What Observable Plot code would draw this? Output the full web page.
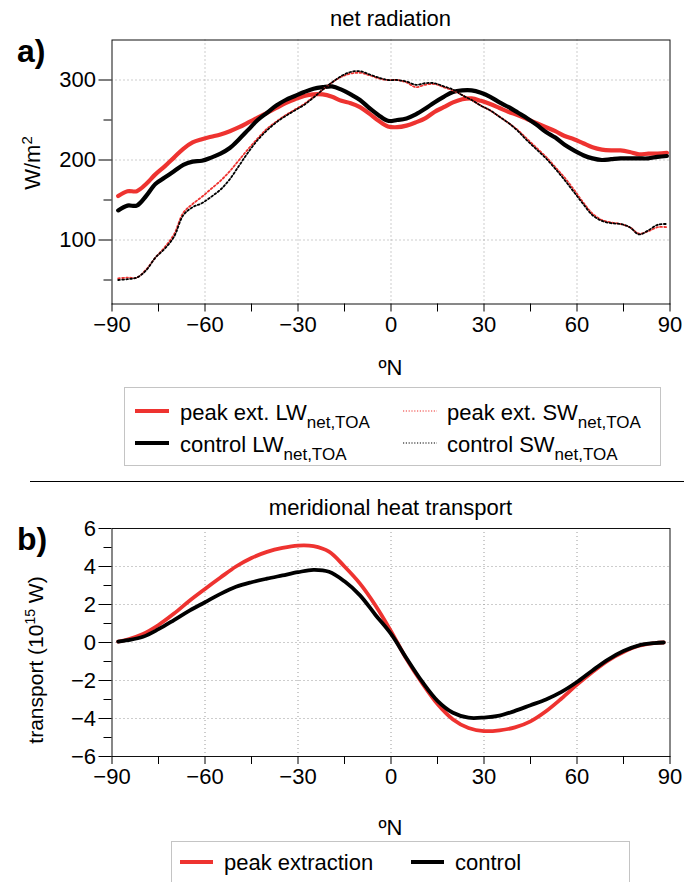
<!DOCTYPE html>
<html><head><meta charset="utf-8">
<script src="https://cdn.jsdelivr.net/npm/d3@7"></script>
<script src="https://cdn.jsdelivr.net/npm/@observablehq/plot@0.6"></script>
<style>
body{margin:0;background:#fff;}
#wrap{position:relative;width:686px;height:882px;overflow:hidden;font-family:"Liberation Sans",Arial,Helvetica,sans-serif;}
#wrap > svg, #wrap > div{position:absolute;left:0;}
</style></head>
<body><div id="wrap"></div>
<script>
// ---- panel a data: net radiation (W/m2) ----
const latA = [-88,-85,-82,-79,-76,-73,-70,-67,-64,-61,-58,-55,-52,-49,-46,-43,-40,-37,-34,-31,-28,-25,-22,-19,-16,-13,-10,-7,-4,-1,2,5,8,11,14,17,20,23,26,29,32,35,38,41,44,47,50,53,56,59,62,65,68,71,74,77,80,83,86,89];
const peakLW = [155,161,161,170,182,192,203,214,222,226,229,232,236,241,247,253,259,265,271,276,280,282,282,279,274,271,266,258,249,242,241,243,247,252,260,266,272,276,277,274,270,265,260,256,251,246,241,236,230,226,221,216,213,212,212,210,207,208,208,209];
const controlLW = [137,143,143,155,170,178,186,194,198,199,203,208,215,226,238,250,259,268,275,280,285,289,291,292,288,282,275,265,256,249,250,252,257,264,272,279,285,287,287,284,279,272,266,259,252,244,235,228,219,212,206,202,200,201,202,202,202,202,204,205];
const peakSW = [52,53,53,63,78,91,107,134,145,154,164,174,186,200,214,227,239,248,256,263,270,279,288,297,304,308,309,306,302,300,300,297,291,294,295,291,287,281,275,268,262,254,246,237,226,215,204,191,178,163,147,133,125,122,120,116,108,111,116,116];
const controlSW = [50,51,53,62,78,89,104,131,141,146,154,163,176,193,210,225,237,247,255,262,269,278,288,297,305,310,311,307,303,300,300,298,294,296,296,292,288,281,275,268,262,254,246,236,224,213,202,189,175,160,145,131,124,121,120,116,107,112,119,120];
// ---- panel b data: meridional heat transport (1e15 W) ----
const latB = [-88,-85,-80,-75,-70,-65,-60,-55,-50,-45,-40,-35,-30,-25,-20,-15,-10,-5,0,5,10,15,20,25,30,35,40,45,50,55,60,65,70,75,80,85,88];
const peakMHT = [0.05,0.16,0.45,0.92,1.52,2.2,2.82,3.42,4.0,4.45,4.77,4.98,5.1,5.07,4.78,4.0,3.1,1.95,0.6,-0.87,-2.13,-3.24,-4.05,-4.5,-4.66,-4.62,-4.47,-4.15,-3.62,-2.95,-2.22,-1.55,-0.95,-0.5,-0.17,-0.03,0];
const controlMHT = [0.05,0.12,0.3,0.7,1.18,1.68,2.12,2.56,2.93,3.17,3.36,3.53,3.7,3.82,3.72,3.22,2.48,1.45,0.45,-0.83,-2.05,-3.07,-3.7,-3.96,-3.95,-3.85,-3.6,-3.3,-3.0,-2.6,-2.08,-1.47,-0.9,-0.45,-0.15,-0.03,0];
// ---- ticks ----
const xTicks = [-90,-60,-30,0,30,60,90];
const xMinor = [-75,-45,-15,15,45,75];
const xGrid = [-60,-30,0,30,60];
const yTicksA = [100,200,300];
const yMinorA = [50,150,250];
const yTicksB = [-6,-4,-2,0,2,4,6];
const yMinorB = [-5,-3,-1,1,3,5];
const yGridB = [-4,-2,0,2,4];

const RED = "#ee3330";
const FONT = '"Liberation Sans", Arial, Helvetica, sans-serif';
const rows = (lat, v) => lat.map((x, i) => ({x, y: v[i]}));
const gridStyle = {stroke: "#9a9a9a", strokeOpacity: 1, strokeDasharray: "1,3", strokeWidth: 1};
const dotted = {strokeWidth: 1.8, strokeDasharray: "1.8,2.2", curve: "catmull-rom"};

const wrap = document.getElementById("wrap");

const plotA = Plot.plot({
  width: 686, height: 350,
  marginLeft: 111.5, marginRight: 16.5, marginTop: 39.5, marginBottom: 46.5,
  style: {fontFamily: FONT, fontSize: "22px", color: "#000", background: "transparent"},
  x: {domain: [-90, 90]},
  y: {domain: [20, 350]},
  marks: [
    Plot.gridX(xGrid, gridStyle),
    Plot.gridY(yTicksA, gridStyle),
    Plot.line(rows(latA, peakLW), {x: "x", y: "y", stroke: RED, strokeWidth: 4.2, curve: "catmull-rom"}),
    Plot.line(rows(latA, controlLW), {x: "x", y: "y", stroke: "#000", strokeWidth: 4.2, curve: "catmull-rom"}),
    Plot.line(rows(latA, peakSW), {x: "x", y: "y", stroke: RED, ...dotted}),
    Plot.line(rows(latA, controlSW), {x: "x", y: "y", stroke: "#000", ...dotted}),
    Plot.frame({stroke: "#111"}),
    Plot.axisY(yTicksA, {tickSize: 13, tickPadding: 3, fontSize: 22, label: null}),
    Plot.axisY(yMinorA, {tickSize: 8, tickFormat: () => "", label: null}),
    Plot.axisX(xTicks, {tickSize: 8, tickPadding: 4, fontSize: 22, label: null}),
    Plot.axisX(xMinor, {tickSize: 8, tickFormat: () => "", label: null})
  ]
});
plotA.style.top = "0px";
wrap.appendChild(plotA);

const plotB = Plot.plot({
  width: 686, height: 340,
  marginLeft: 111.5, marginRight: 16.5, marginTop: 48, marginBottom: 64,
  style: {fontFamily: FONT, fontSize: "22px", color: "#000", background: "transparent"},
  x: {domain: [-90, 90]},
  y: {domain: [-6, 6]},
  marks: [
    Plot.gridX(xGrid, gridStyle),
    Plot.gridY(yGridB, gridStyle),
    Plot.line(rows(latB, peakMHT), {x: "x", y: "y", stroke: RED, strokeWidth: 3.8, curve: "catmull-rom"}),
    Plot.line(rows(latB, controlMHT), {x: "x", y: "y", stroke: "#000", strokeWidth: 3.8, curve: "catmull-rom"}),
    Plot.frame({stroke: "#111"}),
    Plot.axisY(yTicksB, {tickSize: 13, tickPadding: 3, fontSize: 22, label: null}),
    Plot.axisY(yMinorB, {tickSize: 8, tickFormat: () => "", label: null}),
    Plot.axisX(xTicks, {tickSize: 8, tickPadding: 4, fontSize: 22, label: null}),
    Plot.axisX(xMinor, {tickSize: 8, tickFormat: () => "", label: null})
  ]
});
plotB.style.top = "480px";
wrap.appendChild(plotB);

// ---- overlay texts, legends ----
const NS = "http://www.w3.org/2000/svg";
const ov = document.createElementNS(NS, "svg");
ov.setAttribute("width", 686); ov.setAttribute("height", 882);
ov.style.top = "0px"; ov.style.pointerEvents = "none";
ov.setAttribute("font-family", FONT);
ov.innerHTML = `
  <text x="390.5" y="26" text-anchor="middle" font-size="22">net radiation</text>
  <text x="17" y="62" font-size="32" font-weight="bold">a)</text>
  <text transform="translate(40,163) rotate(-90)" text-anchor="middle" font-size="22">W/m<tspan dy="-8" font-size="15">2</tspan></text>
  <text x="390.5" y="375" text-anchor="middle" font-size="22">ºN</text>
  <rect x="124.5" y="387.5" width="536" height="78" fill="none" stroke="#c4c4c4" stroke-width="1"/>
  <line x1="135" x2="169" y1="411" y2="411" stroke="${RED}" stroke-width="4.2"/>
  <text x="180" y="420" font-size="22">peak ext. LW<tspan dy="8" font-size="17">net,TOA</tspan></text>
  <line x1="135" x2="169" y1="443" y2="443" stroke="#000" stroke-width="4.2"/>
  <text x="180" y="452" font-size="22">control LW<tspan dy="8" font-size="17">net,TOA</tspan></text>
  <line x1="403" x2="437" y1="411" y2="411" stroke="${RED}" stroke-width="1.2" stroke-dasharray="1.2,1.6"/>
  <text x="447" y="420" font-size="22">peak ext. SW<tspan dy="8" font-size="17">net,TOA</tspan></text>
  <line x1="403" x2="437" y1="443" y2="443" stroke="#000" stroke-width="1.2" stroke-dasharray="1.2,1.6"/>
  <text x="447" y="452" font-size="22">control SW<tspan dy="8" font-size="17">net,TOA</tspan></text>
  <line x1="30" x2="684" y1="481.5" y2="481.5" stroke="#000" stroke-width="1"/>
  <text x="390.5" y="515" text-anchor="middle" font-size="22">meridional heat transport</text>
  <text x="17" y="550" font-size="32" font-weight="bold">b)</text>
  <text transform="translate(43,660) rotate(-90)" text-anchor="middle" font-size="21">transport (10<tspan dy="-8" font-size="14">15</tspan><tspan dy="8"> W)</tspan></text>
  <text x="390.5" y="835" text-anchor="middle" font-size="22">ºN</text>
  <rect x="171.5" y="841.5" width="458" height="60" fill="none" stroke="#c4c4c4" stroke-width="1"/>
  <line x1="180" x2="213" y1="862" y2="862" stroke="${RED}" stroke-width="4.2"/>
  <text x="224" y="870" font-size="22">peak extraction</text>
  <line x1="411" x2="444" y1="862" y2="862" stroke="#000" stroke-width="4.2"/>
  <text x="455" y="870" font-size="22">control</text>
`;
wrap.appendChild(ov);
</script>
</body></html>
